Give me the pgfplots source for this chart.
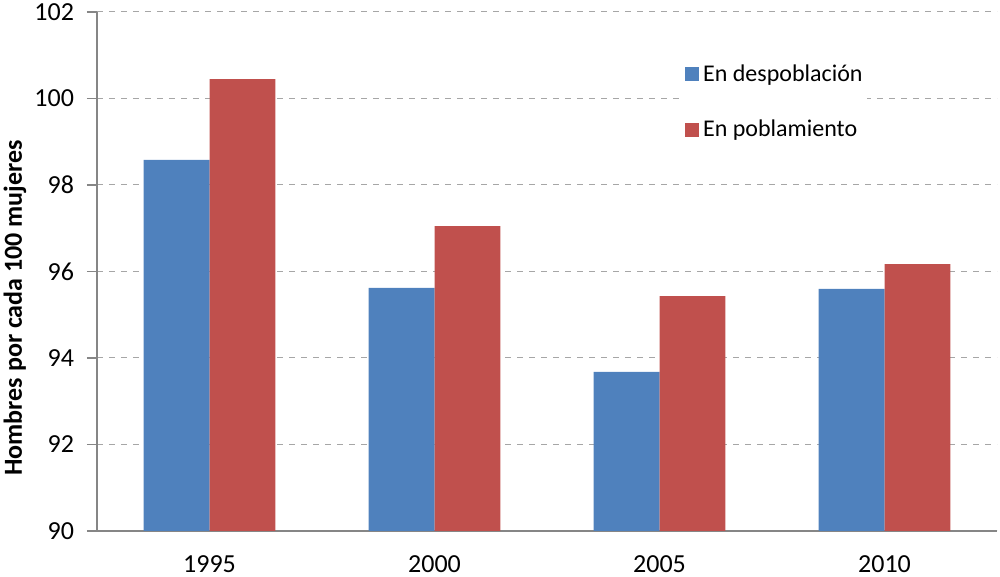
\documentclass[border=0pt]{standalone}
\usepackage{pgfplots}
\pgfplotsset{compat=1.18}
\usepackage{fontspec}
\setmainfont{Carlito}
\definecolor{cblue}{HTML}{4F81BD}
\definecolor{cred}{HTML}{C0504D}
\definecolor{axgray}{HTML}{868686}
\begin{document}
\begin{tikzpicture}
\begin{axis}[
  scale only axis,
  width=450pt, height=259.5pt,
  ybar=0pt, bar width=0.293,
  xmin=-0.5, xmax=3.5,
  ymin=90, ymax=102,
  ytick={90,92,...,102},
  xtick={0,1,2,3},
  xticklabels={1995,2000,2005,2010},
  extra x ticks={-0.5,0.5,1.5,2.5,3.5},
  extra x tick labels={},
  extra x tick style={major tick length=5pt, tick style={axgray, line width=0.8pt}, grid=none},
  x tick style={draw=none},
  y tick style={axgray, line width=0.8pt},
  tick align=outside,
  major tick length=5pt,
  axis x line*=bottom, axis y line*=left,
  axis line style={axgray, line width=0.8pt, -},
  ymajorgrids,
  grid style={dashed, gray!70, line width=0.5pt},
  tick label style={font=\fontsize{13}{15}\selectfont},
  /pgf/number format/assume math mode=true,
  yticklabel style={xshift=-3pt},
  xticklabel style={yshift=-4pt},
  ylabel={\bfseries Hombres por cada 100 mujeres},
  ylabel style={font=\fontsize{13}{15}\selectfont, at={(axis description cs:-0.0911,0.43)}, anchor=center, rotate=0},
  legend style={draw=none, at={(0.653,0.907)}, anchor=north west, font=\fontsize{12}{14}\selectfont, row sep=14pt, fill=white, inner sep=0pt},
  legend cell align=left,
  legend image code/.code={\fill[#1] (0pt,-3.5pt) rectangle (7pt,3.5pt);},
]
\addplot[fill=cblue, draw=none] coordinates {(0,98.58) (1,95.62) (2,93.68) (3,95.60)};
\addplot[fill=cred, draw=none] coordinates {(0,100.45) (1,97.05) (2,95.43) (3,96.17)};
\legend{En despoblación, En poblamiento}
\end{axis}
\pgfresetboundingbox
\path[use as bounding box] (-48.5pt,-23pt) rectangle (451.5pt,265.5pt);
\end{tikzpicture}
\end{document}
